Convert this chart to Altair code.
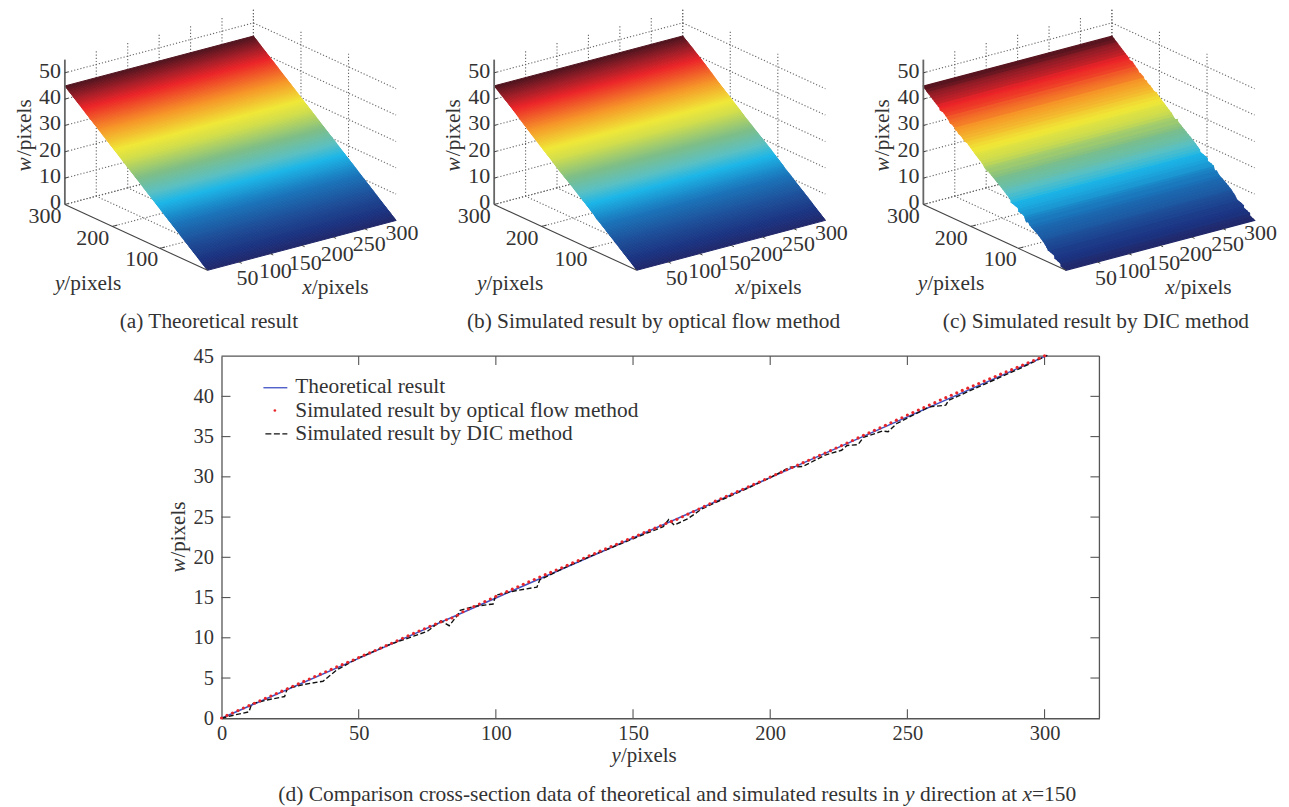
import altair as alt
import numpy as np
import pandas as pd

FONT = "Liberation Serif"
INK = "#333333"
AXIS = "#555555"

# ---------- data ----------
X_TICKS_3D = [50, 100, 150, 200, 250, 300]
Y_TICKS_3D = [100, 200, 300]
W_TICKS_3D = [0, 10, 20, 30, 40, 50]

THEORY_Y = [0, 50, 100, 150, 200, 250, 301]
THEORY_W = [0, 7.45, 14.95, 22.4, 29.9, 37.45, 45.1]

DOT_Y = list(range(0, 301, 2))
DOT_W = [0.03, .35, .65, .97, 1.27, 1.57, 1.87, 2.17, 2.47, 2.77, 3.07, 3.37, 3.67, 3.98, 4.28, 4.58, 4.88, 5.18, 5.48, 5.78, 6.08, 6.38, 6.66, 6.96, 7.24, 7.54,
         7.84, 8.12, 8.42, 8.72, 9.02, 9.32, 9.62, 9.94, 10.24, 10.54, 10.84, 11.12, 11.42, 11.7, 11.98, 12.24, 12.46, 12.8, 13.24, 13.58, 13.88, 14.2, 14.5, 14.82, 15.14,
         15.44, 15.74, 16.04, 16.34, 16.64, 16.94, 17.24, 17.54, 17.84, 18.12, 18.42, 18.7, 19.0, 19.3, 19.58, 19.88, 20.18, 20.46, 20.76, 21.04, 21.34, 21.62, 21.92, 22.2, 22.48,
         22.76, 23.06, 23.34, 23.62, 23.92, 24.2, 24.46, 24.72, 25.04, 25.36, 25.68, 26.0, 26.32, 26.66, 26.98, 27.28, 27.58, 27.86, 28.16, 28.46, 28.76, 29.06, 29.36, 29.66, 29.98,
         30.28, 30.58, 30.88, 31.16, 31.46, 31.76, 32.06, 32.36, 32.66, 32.96, 33.26, 33.58, 33.88, 34.2, 34.52, 34.84, 35.16, 35.46, 35.78, 36.08, 36.4, 36.72, 37.04, 37.34, 37.68,
         37.98, 38.3, 38.6, 38.92, 39.22, 39.54, 39.84, 40.14, 40.44, 40.74, 41.02, 41.32, 41.6, 41.9, 42.18, 42.46, 42.76, 43.04, 43.32, 43.6, 43.88, 44.18, 44.46, 44.74, 45.04]

DIC_Y = [0, 4, 10, 11, 17, 23, 24, 30, 37, 42, 50, 60, 70, 75, 80, 83, 86, 87, 92, 99, 100, 108, 115, 116, 125, 135, 145, 155, 161, 163, 165, 170, 175, 180, 190, 200, 205, 207, 212, 220, 226, 228, 232, 234, 241, 243, 246, 258, 264, 265, 280, 290, 301]
DIC_W = [0, 0.35, 0.8, 1.8, 2.3, 2.7, 3.7, 4.2, 4.6, 6.0, 7.5, 9.0, 10.2, 10.8, 12.1, 11.5, 12.8, 13.4, 13.9, 14.2, 15.3, 15.9, 16.3, 17.2, 18.7, 20.2, 21.6, 23.0, 23.8, 24.7, 24.0, 24.8, 26.0, 26.8, 28.3, 29.9, 30.8, 31.2, 31.3, 32.7, 33.3, 33.9, 34.0, 34.9, 35.7, 35.6, 36.6, 38.7, 38.9, 39.5, 41.8, 43.3, 45.1]

X_TICKS = [0, 50, 100, 150, 200, 250, 300]
Y_TICKS = [0, 5, 10, 15, 20, 25, 30, 35, 40, 45]

# jet as printed in the figure: position, r, g, b
JET = np.array([
    [0.00, 34, 40, 105], [0.06, 28, 52, 130], [0.14, 30, 75, 150], [0.25, 27, 115, 185], [0.36, 28, 182, 232],
    [0.42, 90, 192, 195], [0.50, 125, 190, 135], [0.60, 210, 222, 75], [0.655, 240, 232, 55], [0.76, 246, 150, 40],
    [0.88, 236, 36, 40], [0.94, 160, 30, 40], [1.00, 78, 20, 30]])

WIDTHS = {' ': .25, '(': .333, ')': .333, '/': .278, '=': .564, '-': .333, 'a': .444, 'b': .5, 'c': .444, 'd': .5, 'e': .444, 'f': .333, 'h': .5, 'i': .278,
          'l': .278, 'm': .778, 'n': .5, 'o': .5, 'p': .5, 'r': .333, 's': .389, 't': .278, 'u': .5, 'w': .722, 'x': .5, 'y': .5, 'T': .611, 'C': .667, 'S': .556,
          'D': .722, 'I': .333}


def tw(s, size, italic=False):
    total = sum(WIDTHS.get(c, .5) for c in s) * size
    if italic:
        total -= sum(.056 if c in 'xy' else 0 for c in s) * size
    return total


ONE = alt.Data(values=[{"a": 1}])


def t(ox, oy, x, y, s, size=20, align="center", italic=False, angle=0):
    kw = {"angle": angle} if angle else {}
    return alt.Chart(ONE).mark_text(text=s, font=FONT, fontSize=size, color=INK, align=align, baseline="middle",
                                    fontStyle="italic" if italic else "normal", **kw).encode(
        x=alt.value(x - ox), y=alt.value(y - oy))


def rich(ox, oy, x, y, parts, size=20, vertical=False):
    out = []
    pos = y if vertical else x
    for s, it in parts:
        lead = (len(s) - len(s.lstrip())) * .25 * size
        if vertical:
            out.append(t(ox, oy, x, pos, s.strip(), size, "left", it, 270))
            pos -= tw(s, size, it)
        else:
            out.append(t(ox, oy, pos + lead, y, s.strip(), size, "left", it))
            pos += tw(s, size, it)
    return out


def proj(x, y, w):
    return (205 + x * 189 / 300 - y * 143 / 300, 269 - x * 50 / 300 - y * 66 / 300 - w * 2.64)


def surface_rows(ys, ws, quant=None):
    rows = []
    for i in range(len(ys) - 1):
        y1, y2, w1, w2 = ys[i], ys[i + 1], ws[i], ws[i + 1]
        L1, R1, L2, R2 = proj(0, y1, w1), proj(300, y1, w1), proj(0, y2, w2), proj(300, y2, w2)
        m = (w1 + w2) / 2
        if quant:
            m = 0.85 * m + 0.15 * round(m / quant) * quant
        f = np.clip(m / 45, 0, 1)
        col = "#%02x%02x%02x" % tuple(int(round(np.interp(f, JET[:, 0], JET[:, k]))) for k in (1, 2, 3))
        xs = sorted([L1[0], R1[0], L2[0], R2[0]])
        for xv in xs:
            lo = np.interp(xv, [L1[0], R1[0]], [L1[1], R1[1]]) if L1[0] <= xv <= R1[0] else None
            hi = np.interp(xv, [L2[0], R2[0]], [L2[1], R2[1]]) if L2[0] <= xv <= R2[0] else None
            if lo is None:
                lo = hi
            if hi is None:
                hi = lo
            rows.append(dict(px=xv, py=lo, py2=hi, sid=i, c=col))
    return pd.DataFrame(rows)


def seg_rows():
    s = []
    top = 55
    for w in W_TICKS_3D:
        s.append((0, 300, w, 300, 300, w))
        s.append((300, 300, w, 300, 0, w))
    for x in X_TICKS_3D:
        s.append((x, 300, 0, x, 300, top))
        s.append((x, 0, 0, x, 300, 0))
    for y in Y_TICKS_3D:
        s.append((300, y, 0, 300, y, top))
        s.append((0, y, 0, 300, y, 0))
    rows = []
    for a in s:
        p, q = proj(*a[:3]), proj(*a[3:])
        rows.append(dict(px=p[0], py=p[1], qx=q[0], qy=q[1]))
    return pd.DataFrame(rows)


X_NUDGE = [(8.5, 16), (5, 17), (3.5, 18), (4, 17), (4.5, 15), (6, 13)]


def panel(shift, left, width, surf, cap, ylab_x, xlab_x, cap_x, sw=1.0):
    ox, oy = left, 8
    H = 335
    dom_x = [left - shift, left - shift + width]
    sx = alt.Scale(domain=dom_x, nice=False, zero=False)
    sy = alt.Scale(domain=[8 + H, 8], nice=False, zero=False)
    X = alt.X("px:Q", scale=sx, axis=None)
    Y = alt.Y("py:Q", scale=sy, axis=None)
    grid = alt.Chart(seg_rows()).mark_rule(color="#666666", strokeWidth=1.1, strokeDash=[1.2, 2]).encode(
        x=X, y=Y, x2="qx:Q", y2="qy:Q")
    area = alt.Chart(surf).mark_area(strokeWidth=sw, opacity=1).encode(
        x=X, y=Y, y2="py2:Q", detail="sid:N",
        fill=alt.Fill("c:N", scale=None), stroke=alt.Stroke("c:N", scale=None))
    axis_rows = pd.DataFrame([
        dict(zip(("px", "py"), proj(0, 300, 0))) | dict(zip(("qx", "qy"), proj(0, 0, 0))),
    ])
    yaxis = alt.Chart(axis_rows).mark_rule(color="#444444", strokeWidth=1.1).encode(x=X, y=Y, x2="qx:Q", y2="qy:Q")
    w_axis = pd.DataFrame([dict(zip(("px", "py"), proj(0, 300, 0))) | dict(zip(("qx", "qy"), proj(0, 300, 55)))])
    waxis = alt.Chart(w_axis).mark_rule(color="#666666", strokeWidth=1.8).encode(x=X, y=Y, x2="qx:Q", y2="qy:Q")
    tick_rows = []
    for w in W_TICKS_3D:
        p, q = proj(0, 300, w), proj(5, 300, w)
        tick_rows.append(dict(px=p[0], py=p[1], qx=q[0], qy=q[1]))
    for y in Y_TICKS_3D[:2]:
        p, q = proj(0, y, 0), proj(8, y, 0)
        tick_rows.append(dict(px=p[0], py=p[1], qx=q[0], qy=q[1]))
    for x in X_TICKS_3D[:-1]:
        p, q = proj(x, 0, 0), proj(x, -6, 0)
        tick_rows.append(dict(px=p[0], py=p[1], qx=q[0], qy=q[1]))
    ticks = alt.Chart(pd.DataFrame(tick_rows)).mark_rule(color="#444444", strokeWidth=1).encode(
        x=X, y=Y, x2="qx:Q", y2="qy:Q")

    layers = [grid, area, yaxis, waxis, ticks]
    for w in W_TICKS_3D:
        p = proj(0, 300, w)
        layers.append(t(ox, oy, p[0] - 4 + shift, p[1] - 2, str(w), 22, "right"))
    for y, pos in zip(Y_TICKS_3D, [(139, 258), (90, 237), (42, 215)]):
        layers.append(t(ox, oy, pos[0] + shift, pos[1], str(y), 22))
    for x, (dx, dy) in zip(X_TICKS_3D, X_NUDGE):
        p = proj(x, 0, 0)
        layers.append(t(ox, oy, p[0] + dx + shift, p[1] + dy, str(x), 22))
    layers += rich(ox, oy, 22 + shift, 170, [("w", True), ("/pixels", False)], 21.4, vertical=True)
    layers += rich(ox, oy, ylab_x, 283, [("y", True), ("/pixels", False)], 21.4)
    layers += rich(ox, oy, xlab_x, 287, [("x", True), ("/pixels", False)], 21.4)
    layers.append(t(ox, oy, cap_x, 321, cap, 21.4, "left"))
    return alt.layer(*layers).properties(width=width, height=H)


fine = list(np.arange(0, 301, 2.0))
surf_a = surface_rows(fine, list(np.interp(fine, [0, 300], [0, 45])))
surf_b = surface_rows(DOT_Y, DOT_W)
knots = sorted(set(DIC_Y[:-1]) | set(range(0, 301, 4)))
surf_c = surface_rows(knots, list(np.interp(knots, DIC_Y, DIC_W)), quant=3)

pa = panel(0, 8, 430, surf_a, "(a) Theoretical result", 52, 300, 117)
pb = panel(430.3, 438, 430, surf_b, "(b) Simulated result by optical flow method", 475, 734, 465)
pc = panel(860.5, 868, 413, surf_c, "(c) Simulated result by DIC method", 917, 1165, 942, sw=1.2)

# ---------- bottom panel ----------
PW, PH = 880, 363
TX, TY = 9 * 320 / PW, 9 * 45 / PH
ox, oy = 221, 355
SX = alt.Scale(domain=[0, 320], nice=False, zero=False)
SY = alt.Scale(domain=[0, 45], nice=False, zero=False)
base_x = alt.X("y:Q", scale=SX, axis=alt.Axis(values=X_TICKS, title=None, grid=False, ticks=False, labelFont=FONT, labelFontSize=20.5,
                                              labelColor=INK, labelPadding=5, domainColor=AXIS, domainWidth=1.3, labelFlush=False))
base_y = alt.Y("w:Q", scale=SY, axis=alt.Axis(values=Y_TICKS, title=None, grid=False, ticks=False, labelFont=FONT, labelFontSize=20.5,
                                              labelColor=INK, labelPadding=8, domainColor=AXIS, domainWidth=1.3))
theory = alt.Chart(pd.DataFrame({"y": THEORY_Y, "w": THEORY_W})).mark_line(color="#3f51c4", strokeWidth=1.5).encode(x=base_x, y=base_y)
dic = alt.Chart(pd.DataFrame({"y": DIC_Y, "w": DIC_W})).mark_line(color="#111111", strokeWidth=1.4, strokeDash=[5, 2.5]).encode(
    x=alt.X("y:Q", scale=SX), y=alt.Y("w:Q", scale=SY))
dots = alt.Chart(pd.DataFrame({"y": DOT_Y, "w": DOT_W})).mark_circle(color="#e8262a", size=10, opacity=1).encode(
    x=alt.X("y:Q", scale=SX), y=alt.Y("w:Q", scale=SY))

sx2, sy2 = alt.X("y:Q", scale=SX), alt.Y("w:Q", scale=SY)
vt = [dict(y=v, w=0, w2=TY) for v in X_TICKS[1:]] + [dict(y=v, w=45 - TY, w2=45) for v in X_TICKS[1:]]
ht = [dict(y=0, y2=TX, w=v) for v in Y_TICKS[1:-1]] + [dict(y=320 - TX, y2=320, w=v) for v in Y_TICKS[1:-1]]
vticks = alt.Chart(pd.DataFrame(vt)).mark_rule(color=AXIS, strokeWidth=1.1).encode(x=sx2, y=sy2, y2="w2:Q")
hticks = alt.Chart(pd.DataFrame(ht)).mark_rule(color=AXIS, strokeWidth=1.1).encode(x=sx2, x2="y2:Q", y=sy2)
border = alt.Chart(pd.DataFrame({"y": [0], "y2": [320], "w": [45]})).mark_rule(color=AXIS, strokeWidth=1.3).encode(x=sx2, x2="y2:Q", y=sy2)
border2 = alt.Chart(pd.DataFrame({"y": [320], "w": [0], "w2": [45]})).mark_rule(color=AXIS, strokeWidth=1.3).encode(x=sx2, y=sy2, y2="w2:Q")


def seg(x1, x2, y, color, dash=None):
    kw = {"strokeDash": dash} if dash else {}
    return alt.Chart(ONE).mark_rule(color=color, strokeWidth=1.3, **kw).encode(
        x=alt.value(x1 - ox), x2=alt.value(x2 - ox), y=alt.value(y - oy))


d_layers = [border, border2, vticks, hticks, theory, dic, dots,
            seg(263, 287, 386.7, "#3f51c4"),
            alt.Chart(ONE).mark_circle(color="#e8262a", size=7, opacity=1).encode(x=alt.value(274.5 - ox), y=alt.value(409.5 - oy)),
            seg(265, 287, 433, "#111111", [6, 2.5]),
            t(ox, oy, 295, 386, "Theoretical result", 21.4, "left"),
            t(ox, oy, 295, 410.5, "Simulated result by optical flow method", 21.4, "left"),
            t(ox, oy, 295, 433, "Simulated result by DIC method", 21.4, "left")]
d_layers += rich(ox, oy, 178, 572, [("w", True), ("/pixels", False)], 21, vertical=True)
d_layers += rich(ox, oy, 612, 756, [("y", True), ("/pixels", False)], 21)
d_layers += rich(ox, oy, 278, 795, [("(d) Comparison cross-section data of theoretical and simulated results in ", False), ("y", True),
                                    (" direction at ", False), ("x", True), ("=150", False)], 21.5)
pd_ = alt.layer(*d_layers).properties(width=PW, height=PH)

spacer = alt.Chart(ONE).mark_point(opacity=0).encode(x=alt.value(0), y=alt.value(0)).properties(width=157, height=10)

top = alt.hconcat(pa, pb, pc, spacing=0)
bottom = alt.hconcat(spacer, pd_, spacing=0)
chart = alt.vconcat(top, bottom, spacing=2).properties(padding=0).configure_view(stroke=None).configure_concat(spacing=0)
chart.save("out.html", embed_options={"renderer": "svg", "actions": False})
